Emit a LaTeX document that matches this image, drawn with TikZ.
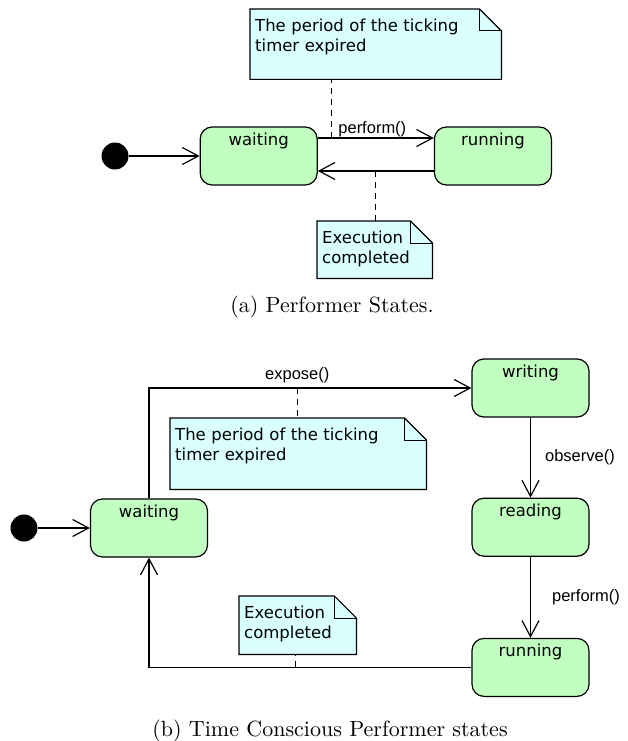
\documentclass[tikz,border=0pt]{standalone}
\usepackage{fontspec}
\usepackage{tikz}
\usetikzlibrary{arrows.meta,positioning}
\newfontfamily\umlfont{DejaVu Sans}
\newfontfamily\trigfont{Liberation Sans}
\definecolor{stategreen}{RGB}{192,255,192}
\definecolor{notecyan}{RGB}{217,255,255}
\newcommand{\foldnote}[1]{%
  \fill[white] ([xshift=-22pt]#1.north east) -- (#1.north east) -- ([yshift=-22pt]#1.north east) -- cycle;
  \draw[line width=1.2pt] (#1.north west) -- ([xshift=-22pt]#1.north east) -- ([yshift=-22pt]#1.north east) -- (#1.south east) -- (#1.south west) -- cycle;
  \draw[line width=1pt] ([xshift=-22pt]#1.north east) |- ([yshift=-22pt]#1.north east);}

\begin{document}
\begin{tikzpicture}[x=1pt, y=-1pt,
    node distance=116pt,
    statebox/.style={rectangle, rounded corners=12pt, draw, line width=1.2pt, fill=stategreen,
                minimum width=117pt, inner ysep=4pt, text height=14pt, text depth=36pt,
                font=\umlfont\fontsize{16.5}{20}\selectfont},
    notebox/.style={rectangle, fill=notecyan, anchor=north west, inner sep=5pt, align=left,
                text height=17pt, text depth=#1, font=\umlfont\fontsize{16.5}{20}\selectfont},
    initdot/.style={circle, fill=black, minimum size=27pt, inner sep=0pt},
    trans/.style={-{Straight Barb[length=16pt, width=17pt]}, line width=1.2pt},
    link/.style={dash pattern=on 6pt off 5pt, line width=1pt},
    trig/.style={font=\trigfont\fontsize{16.5}{20}\selectfont, inner sep=1pt},
    capt/.style={font=\fontsize{10}{12}\selectfont, scale=2.2, transform shape}]
\useasboundingbox (0,0) rectangle (627,741);

% (a)
\node[initdot] (i1) at (115,156) {};
\node[statebox] (waitA) at (258.7,156) {waiting};
\node[statebox, right=of waitA] (runA) {running};
\node[notebox=43pt, text width=241pt] (note1) at (250,9) {The period of the ticking\\timer expired};
\node[notebox=30pt, text width=105pt] (note2) at (317,221) {Execution\\completed};
\foldnote{note1}
\foldnote{note2}
\draw[trans] (i1) -- (waitA);
\draw[trans] ([yshift=18pt]waitA.east) -- node[trig, above, inner sep=0.5pt, pos=0.47] {perform()} coordinate[pos=0.12] (tickA) ([yshift=18pt]runA.west);
\draw[trans] ([yshift=-15pt]runA.west) -- coordinate[pos=0.5] (doneA) ([yshift=-15pt]waitA.east);
\draw[link] (tickA) -- (tickA |- note1.south);
\draw[link] (doneA) -- (doneA |- note2.north);
\node[capt] (captA) at (332,307) {(a) Performer States.};

% (b)
\node[initdot] (i2) at (24,528) {};
\node[statebox] (waitB) at (149,528) {waiting};
\node[statebox] (writing) at (530.5,388) {writing};
\node[statebox, below=80pt of writing] (reading) {reading};
\node[statebox, below=81pt of reading] (runB) {running};
\node[notebox=44pt, text width=246pt] (note3) at (170,418) {The period of the ticking\\timer expired};
\node[notebox=31pt, text width=107pt] (note4) at (239,596) {Execution\\completed};
\foldnote{note3}
\foldnote{note4}
\draw[trans] (i2) -- (waitB);
\draw[trans] (waitB.north) |- node[trig, above=3pt, pos=0.73] {expose()} coordinate[pos=0.731] (tickB) (writing.west);
\draw[trans] (writing) -- node[trig, right=13pt] {observe()} (reading);
\draw[trans] (reading) -- node[trig, right=20pt] {perform()} (runB);
\draw[trans] (runB.west) -| coordinate[pos=0.273] (doneB) (waitB.south);
\draw[link] (tickB) -- (tickB |- note3.north);
\draw[link] (doneB) -- (doneB |- note4.south);
\node[capt] (captB) at (330,731) {(b) Time Conscious Performer states};
\end{tikzpicture}
\end{document}
